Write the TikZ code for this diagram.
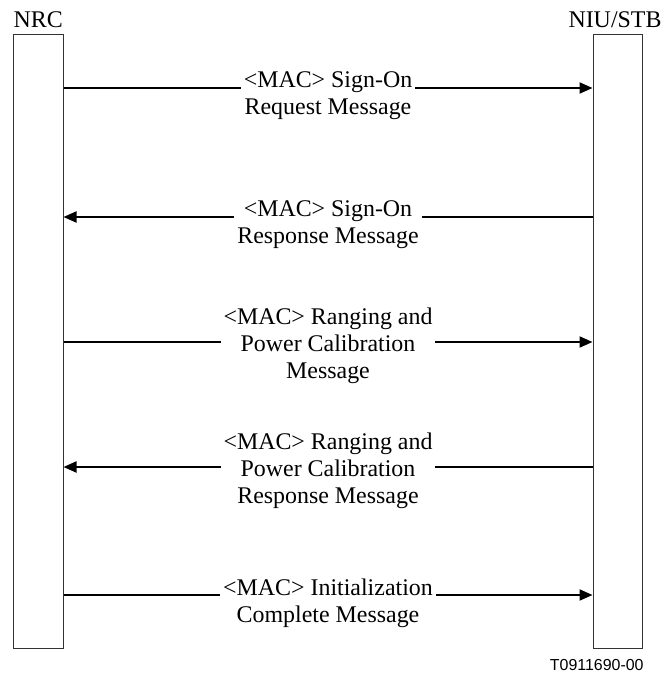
\documentclass[tikz,border=0pt]{standalone}
\usepackage{fontspec}
\setmainfont{Liberation Serif}
\newfontfamily\etiqsans{Liberation Sans}
\usepackage{tikz}
\usetikzlibrary{positioning,arrows.meta}

\begin{document}
\begin{tikzpicture}[x=0.5bp, y=-0.5bp, font=\fontsize{12}{13.5}\selectfont,
  barra/.style={draw=black!80, line width=0.5bp, minimum width=24.75bp, minimum height=306.5bp, inner sep=0pt},
  flecha/.style={-{Triangle[length=6.5bp, width=5.5bp]}, line width=1bp},
  etiq/.style={fill=white, align=center, inner xsep=1.5bp, inner ysep=0pt, yshift=-4bp},
  etiqtres/.style={etiq, yshift=2bp}]
\useasboundingbox (0,0) rectangle (661,673);
\node[barra] (nrc) at (38.25,341.5) {};
\node[barra] (niu) at (617.75,341.5) {};
\node[anchor=base, inner sep=0pt] (tnrc) at (38.25,28) {NRC};
\node[anchor=base, inner sep=0pt] (tniu) at (615,28) {NIU/STB};
\node[anchor=base east, inner sep=0pt, font=\etiqsans\fontsize{8}{9}\selectfont] (ref) at (644,670) {T0911690-00};
\coordinate (m1) at (328,88);
\coordinate (m2) at (328,217);
\coordinate (m3) at (328,342);
\coordinate (m4) at (328,467);
\coordinate (m5) at (328,595);
\draw[flecha] (nrc.east |- m1) -- node[etiq] (e1) {<MAC> Sign-On\\Request Message} (niu.west |- m1);
\draw[flecha] (niu.west |- m2) -- node[etiq] (e2) {<MAC> Sign-On\\Response Message} (nrc.east |- m2);
\draw[flecha] (nrc.east |- m3) -- node[etiqtres] (e3) {<MAC> Ranging and\\Power Calibration\\Message} (niu.west |- m3);
\draw[flecha] (niu.west |- m4) -- node[etiqtres] (e4) {<MAC> Ranging and\\Power Calibration\\Response Message} (nrc.east |- m4);
\draw[flecha] (nrc.east |- m5) -- node[etiq] (e5) {<MAC> Initialization\\Complete Message} (niu.west |- m5);
\end{tikzpicture}
\end{document}
